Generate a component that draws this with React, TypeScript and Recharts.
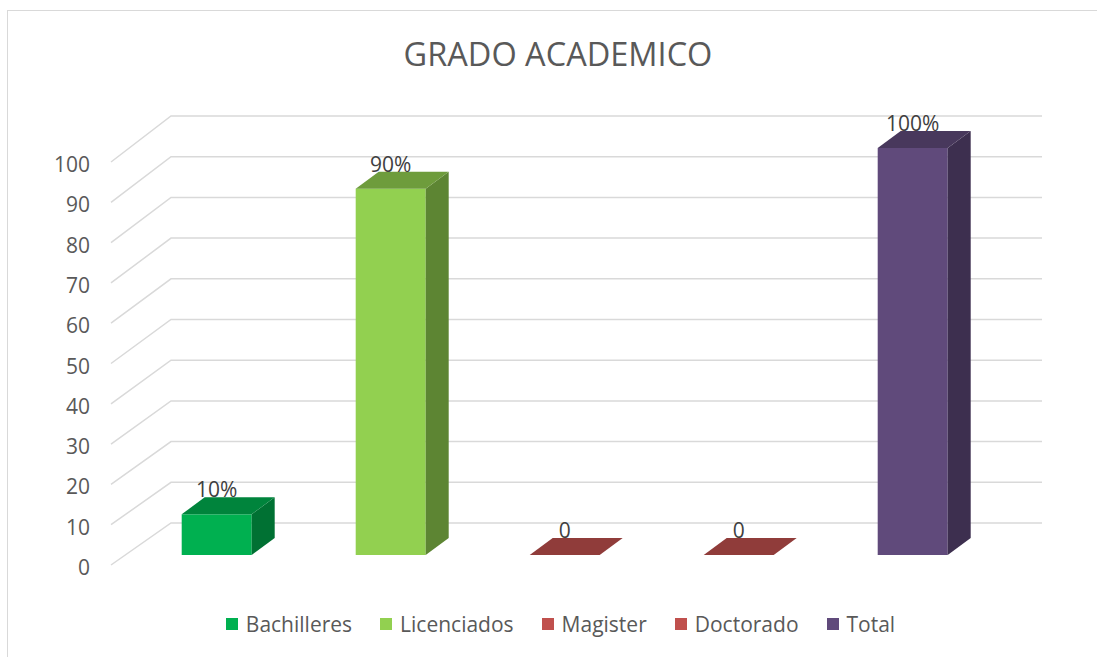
import React from 'react';
import { BarChart, Bar, XAxis, YAxis, CartesianGrid, LabelList, Cell } from 'recharts';

const categories = ['Bachilleres', 'Licenciados', 'Magister', 'Doctorado', 'Total'];
const values = [10, 90, 0, 0, 100];
const valueLabels = ['10%', '90%', '0', '0', '100%'];
const colors = ['#00B050', '#92D050', '#C0504D', '#C0504D', '#604A7B'];
const yTicks = [0, 10, 20, 30, 40, 50, 60, 70, 80, 90, 100];

const data = categories.map((name, i) => ({ name, value: values[i], label: valueLabels[i], color: colors[i] }));

const W = 1097;
const H = 657;
const PLOT_TOP = 148;
const PLOT_BOTTOM = 555;
const PLOT_RIGHT = 999.5;
const YAXIS_W = 129.5;
const FONT = '"Open Sans", "Noto Sans", sans-serif';

// bar depth (3d look)
const DX = 23;
const DY = 17;

function shade(hex: string, f: number) {
	const n = parseInt(hex.slice(1), 16);
	const r = Math.round(((n >> 16) & 255) * f);
	const g = Math.round(((n >> 8) & 255) * f);
	const b = Math.round((n & 255) * f);
	return `rgb(${r},${g},${b})`;
}

// front edge of the floor/wall sits a bit lower than the bars
const frontY = (y: number) => y + 10 + (4 * (PLOT_BOTTOM - y)) / (PLOT_BOTTOM - PLOT_TOP);

const GridLine = (props: any) => {
	const { x1, x2, y1 } = props;
	const pts = `${x1 - 18.5},${frontY(y1)} ${x1 + 41.5},${y1 - 32} ${x2 + 42.5},${y1 - 32}`;
	return <polyline key={`g-${y1}`} points={pts} fill="none" stroke="#d9d9d9" strokeWidth={1.5} />;
};

const YTick = (props: any) => {
	const { x, y, payload } = props;
	return (
		<text x={x} y={frontY(y) + 2} textAnchor="end" dominantBaseline="central" fill="#595959" fontSize={21} fontFamily={FONT}>
			{payload.value}
		</text>
	);
};

const Box3D = (props: any) => {
	const { x, y, width, height, payload } = props;
	const c = payload.color;
	const top = `${x},${y} ${x + DX},${y - DY} ${x + width + DX},${y - DY} ${x + width},${y}`;
	const side = `${x + width},${y} ${x + width + DX},${y - DY} ${x + width + DX},${y + height - DY} ${x + width},${y + height}`;
	return (
		<g>
			{height > 0 && <rect x={x} y={y} width={width} height={height} fill={c} />}
			{height > 0 && <polygon points={side} fill={shade(c, 0.64)} />}
			<polygon points={top} fill={shade(c, 0.75)} />
		</g>
	);
};

const ValueLabel = (props: any) => {
	const { x, y, width, value } = props;
	return (
		<text x={x + width / 2} y={y - 17} textAnchor="middle" fill="#404040" fontSize={21} fontFamily={FONT}>
			{value}
		</text>
	);
};

export default function App() {
	return (
		<div style={{ position: 'absolute', left: 0, top: 0, width: W, height: H, overflow: 'hidden', background: '#fff' }}>
			<div
				style={{
					position: 'absolute',
					left: 7,
					top: 10,
					width: 1102,
					height: 700,
					border: '1.5px solid #d9d9d9',
					boxSizing: 'border-box',
				}}
			/>
			<div
				style={{
					position: 'absolute',
					left: 7,
					width: 1102,
					top: 32,
					textAlign: 'center',
					fontFamily: FONT,
					fontSize: 32.5,
					color: '#595959',
					lineHeight: '44px',
				}}
			>
				GRADO ACADEMICO
			</div>
			<div style={{ position: 'absolute', left: 0, top: 0 }}>
				<BarChart
					width={W}
					height={H}
					data={data}
					margin={{ top: PLOT_TOP, right: W - PLOT_RIGHT, bottom: H - PLOT_BOTTOM, left: 0 }}
					barCategoryGap="30%"
				>
					<CartesianGrid vertical={false} horizontal={GridLine} />
					<XAxis dataKey="name" hide />
					<YAxis
						width={YAXIS_W}
						domain={[0, 100]}
						ticks={yTicks}
						axisLine={false}
						tickLine={false}
						tickSize={0}
						tickMargin={39.5}
						tick={YTick}
						interval={0}
					/>
					<Bar dataKey="value" shape={Box3D} isAnimationActive={false}>
						{data.map((d, i) => (
							<Cell key={`c-${i}`} fill={d.color} />
						))}
						<LabelList dataKey="label" content={ValueLabel} />
					</Bar>
				</BarChart>
			</div>
			<div
				style={{
					position: 'absolute',
					left: 7,
					width: 1107,
					top: 608,
					display: 'flex',
					justifyContent: 'center',
					gap: 28,
					fontFamily: FONT,
					fontSize: 21,
					color: '#595959',
					lineHeight: '32px',
				}}
			>
				{categories.map((name, i) => (
					<div key={name} style={{ display: 'flex', alignItems: 'center', gap: 8 }}>
						<span style={{ width: 12, height: 12, background: colors[i], display: 'inline-block' }} />
						<span>{name}</span>
					</div>
				))}
			</div>
		</div>
	);
}
